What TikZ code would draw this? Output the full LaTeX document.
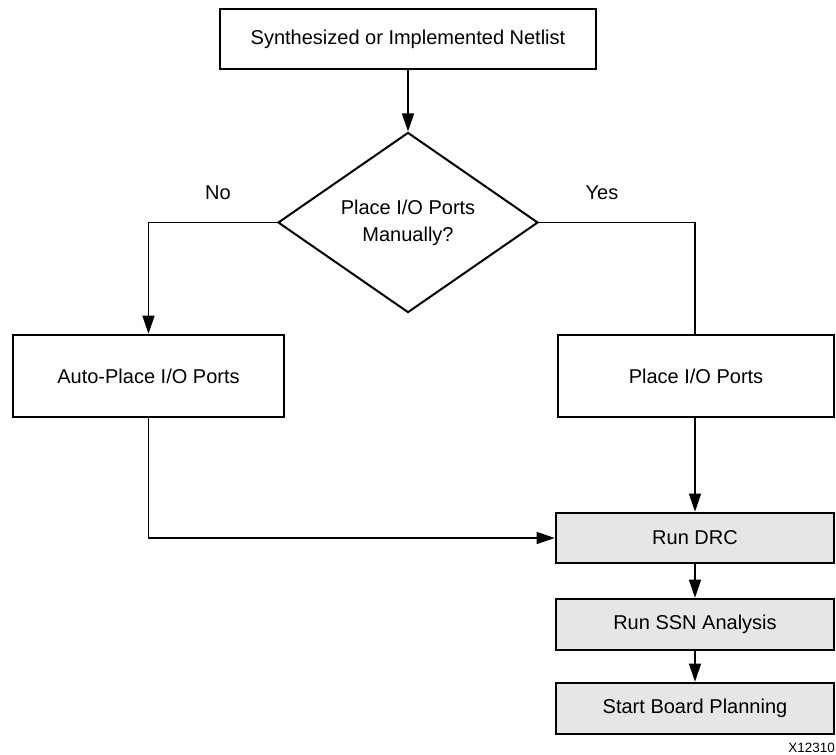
\documentclass[tikz,border=0pt]{standalone}
\usepackage{fontspec}
\setmainfont{Liberation Sans}
\usetikzlibrary{shapes.geometric,arrows.meta}
\definecolor{boxgray}{HTML}{E6E6E6}
\tikzset{
  box/.style={draw=black, line width=2.6pt, fill=white, inner sep=0pt, align=center,
    font=\fontsize{20}{26}\selectfont},
  graybox/.style={box, fill=boxgray},
  decision/.style={draw=black, line width=2pt, shape=diamond, fill=white, inner sep=0pt,
    minimum width=260pt, minimum height=168pt, align=center, font=\fontsize{20}{26}\selectfont},
  conn/.style={draw=black, line width=1.3pt},
  arr/.style={conn, -{Triangle[length=18pt,width=12pt]}},
  lbl/.style={font=\fontsize{20}{24}\selectfont, inner sep=0pt}
}
\begin{document}
\begin{tikzpicture}[x=1pt,y=-1pt]
\useasboundingbox (0,0) rectangle (836,755);
\node[box, minimum width=376pt, minimum height=60pt] (top) at (408,39) {Synthesized or Implemented Netlist};
\node[decision] (dia) at (408,222.5) {Place I/O Ports\\[1pt]Manually?};
\node[box, minimum width=271pt, minimum height=82pt] (auto) at (148.5,376) {Auto-Place I/O Ports};
\node[box, minimum width=276pt, minimum height=82pt] (place) at (696,376) {Place I/O Ports};
\node[graybox, minimum width=278pt, minimum height=50pt] (drc) at (695,538) {Run DRC};
\node[graybox, minimum width=278pt, minimum height=51pt] (ssn) at (695,624.5) {Run SSN Analysis};
\node[graybox, minimum width=278pt, minimum height=51pt] (board) at (695,708.5) {Start Board Planning};
\node[lbl] (no) at (218,193) {No};
\node[lbl] (yes) at (602,193) {Yes};
\node[lbl, anchor=east, font=\fontsize{13.5}{16}\selectfont] (id) at (835,748) {X12310};

\draw[arr] (top.south) -- (dia.north);
\draw[arr] (dia.west) -| (auto.north);
\draw[conn] (dia.east) -| (place.north -| drc.north);
\draw[arr] (auto.south) |- (drc.west);
\draw[arr] (place.south -| drc.north) -- (drc.north);
\draw[arr] (drc.south) -- (ssn.north);
\draw[arr] (ssn.south) -- (board.north);
\end{tikzpicture}
\end{document}
